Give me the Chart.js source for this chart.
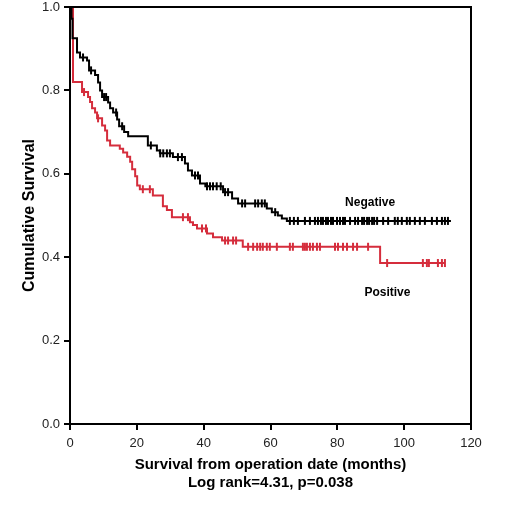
<!DOCTYPE html>
<html lang="en">
  <head>
    <meta charset="UTF-8" />
    <title>Cumulative Survival</title>
    <script src="https://cdn.jsdelivr.net/npm/chart.js"></script>
    <style>
      html, body { margin: 0; padding: 0; background: #fff; }
      #km { display: block; }
    </style>
  </head>
  <body>
    <canvas id="km" width="509" height="509"></canvas>
    <script>
      // Negative group: step times (months) and survival after each step
      var negTimes = [0, 0.45, 0.75, 2.1, 3.0, 5.1, 5.7, 7.5, 8.4, 9.0, 9.6, 11.4, 12.0, 12.9, 14.1, 14.7, 16.2, 17.4, 23.3, 26.0, 26.9, 30.8, 34.4, 35.3, 36.5, 38.9, 40.5, 45.8, 48.5, 50.3, 58.9, 60.4, 62.2, 63.4, 64.9, 114.0];
      var negSurv = [1.0, 0.972, 0.925, 0.891, 0.879, 0.872, 0.848, 0.837, 0.819, 0.8, 0.784, 0.771, 0.757, 0.747, 0.73, 0.714, 0.7, 0.69, 0.668, 0.656, 0.649, 0.64, 0.625, 0.608, 0.596, 0.577, 0.57, 0.556, 0.541, 0.529, 0.517, 0.508, 0.5, 0.493, 0.487, 0.487];
      var negCensored = [3.9, 6.3, 10.2, 10.8, 13.8, 15.6, 24.2, 27.0, 27.9, 29.0, 29.9, 32.3, 33.5, 37.4, 38.3, 41.0, 41.9, 42.8, 43.9, 45.1, 46.4, 47.3, 51.5, 52.4, 55.4, 56.3, 57.4, 58.3, 61.4, 65.8, 67.0, 68.2, 70.3, 71.8, 73.3, 74.2, 75.1, 75.7, 76.6, 77.2, 78.1, 78.7, 79.9, 80.8, 81.7, 82.3, 83.8, 85.3, 86.2, 87.4, 88.0, 88.9, 89.5, 90.4, 91.0, 91.9, 93.7, 95.2, 97.2, 98.1, 99.3, 100.8, 101.7, 103.2, 104.7, 106.2, 108.3, 109.8, 111.3, 112.2, 113.1];

      // Positive group
      var posTimes = [0, 0.9, 3.6, 5.4, 6.0, 6.6, 7.5, 8.1, 9.6, 10.5, 11.1, 12.0, 14.9, 15.9, 17.1, 18.0, 18.6, 19.5, 20.1, 20.9, 24.8, 27.8, 29.0, 30.5, 35.9, 36.8, 38.0, 41.0, 42.8, 45.5, 51.7, 92.8, 112.2];
      var posSurv = [1.0, 0.82, 0.796, 0.784, 0.772, 0.757, 0.747, 0.733, 0.716, 0.704, 0.68, 0.668, 0.66, 0.651, 0.641, 0.629, 0.611, 0.594, 0.572, 0.563, 0.548, 0.522, 0.513, 0.496, 0.484, 0.477, 0.469, 0.457, 0.448, 0.44, 0.425, 0.386, 0.386];
      var posCensored = [4.2, 8.4, 21.8, 23.9, 33.8, 35.3, 39.5, 40.7, 46.4, 47.3, 48.8, 49.7, 53.3, 54.8, 56.0, 56.9, 57.7, 58.9, 59.8, 61.9, 65.8, 66.7, 69.7, 70.3, 70.9, 71.8, 72.7, 73.9, 74.8, 79.3, 80.2, 81.7, 82.9, 84.7, 85.9, 89.2, 94.9, 105.6, 106.8, 107.4, 110.1, 111.3, 112.2];

      var xTicks = [0, 20, 40, 60, 80, 100, 120];
      var yTicks = [0, 0.2, 0.4, 0.6, 0.8, 1.0];

      var groupLabels = ["Negative", "Positive"];
      var labelAt = [[89.8, 0.53], [95.0, 0.314]];

      var black = "#000000";
      var red = "#d52d3c";

      function toPoints(times, surv) {
        return times.map(function (t, i) { return { x: t, y: surv[i] }; });
      }

      function survAt(times, surv, t) {
        var s = surv[0];
        for (var i = 0; i < times.length; i++) {
          if (times[i] <= t) s = surv[i];
        }
        return s;
      }

      function censorPoints(cens, times, surv) {
        return cens.map(function (t) { return { x: t, y: survAt(times, surv, t) }; });
      }

      // box round the plot area plus the group labels
      var framePlugin = {
        id: "frame",
        afterDraw: function (chart) {
          var ctx = chart.ctx;
          var a = chart.chartArea;
          ctx.save();
          ctx.strokeStyle = "#000";
          ctx.lineWidth = 2;
          ctx.strokeRect(a.left, a.top, a.right - a.left, a.bottom - a.top);
          ctx.font = "bold 12px 'Liberation Sans', Arial, sans-serif";
          ctx.fillStyle = "#000";
          ctx.textAlign = "center";
          ctx.textBaseline = "middle";
          groupLabels.forEach(function (txt, i) {
            var px = chart.scales.x.getPixelForValue(labelAt[i][0]);
            var py = chart.scales.y.getPixelForValue(labelAt[i][1]);
            ctx.fillText(txt, px, py);
          });
          ctx.restore();
        },
      };

      var tickFont = { family: "'Liberation Sans', Arial, sans-serif", size: 13 };
      var titleFont = { family: "'Liberation Sans', Arial, sans-serif", size: 15, weight: "bold" };

      var ctx = document.getElementById("km").getContext("2d");
      var chart = new Chart(ctx, {
        type: "scatter",
        data: {
          datasets: [
            {
              label: "Negative",
              data: toPoints(negTimes, negSurv),
              showLine: true,
              stepped: true,
              borderColor: black,
              borderWidth: 2,
              pointRadius: 0,
            },
            {
              label: "Positive",
              data: toPoints(posTimes, posSurv),
              showLine: true,
              stepped: true,
              borderColor: red,
              borderWidth: 2,
              pointRadius: 0,
            },
            {
              label: "Negative censored",
              data: censorPoints(negCensored, negTimes, negSurv),
              showLine: false,
              pointStyle: "line",
              rotation: 90,
              pointRadius: 4,
              borderColor: black,
              borderWidth: 2,
            },
            {
              label: "Positive censored",
              data: censorPoints(posCensored, posTimes, posSurv),
              showLine: false,
              pointStyle: "line",
              rotation: 90,
              pointRadius: 4,
              borderColor: red,
              borderWidth: 2,
            },
          ],
        },
        options: {
          responsive: false,
          animation: false,
          layout: { padding: { top: 0, right: 38, left: 0, bottom: 13 } },
          plugins: {
            legend: { display: false },
            tooltip: { enabled: false },
          },
          scales: {
            x: {
              type: "linear",
              min: 0,
              max: 120,
              afterBuildTicks: function (scale) {
                scale.ticks = xTicks.map(function (v) { return { value: v }; });
              },
              afterFit: function (scale) { scale.height = 72; },
              ticks: { font: tickFont, color: "#222", padding: 6, maxRotation: 0 },
              grid: { drawOnChartArea: false, drawTicks: true, tickLength: 6, color: "#000", lineWidth: 2 },
              border: { color: "#000", width: 2 },
              title: {
                display: true,
                text: ["Survival from operation date (months)", "Log rank=4.31, p=0.038"],
                font: titleFont,
                color: "#000",
                padding: { top: 2 },
              },
            },
            y: {
              type: "linear",
              min: 0,
              max: 1,
              afterBuildTicks: function (scale) {
                scale.ticks = yTicks.map(function (v) { return { value: v }; });
              },
              afterFit: function (scale) {
                scale.width = 70;
                scale.paddingTop = 7;
                scale.paddingBottom = 0;
              },
              ticks: {
                font: tickFont,
                color: "#222",
                padding: 4,
                callback: function (v) { return v.toFixed(1); },
              },
              grid: { drawOnChartArea: false, drawTicks: true, tickLength: 6, color: "#000", lineWidth: 2 },
              border: { color: "#000", width: 2 },
              title: {
                display: true,
                text: "Cumulative Survival",
                font: { family: "'Liberation Sans', Arial, sans-serif", size: 16, weight: "bold" },
                color: "#000",
                padding: { top: 20, bottom: 0 },
              },
            },
          },
        },
        plugins: [framePlugin],
      });
    </script>
  </body>
</html>
